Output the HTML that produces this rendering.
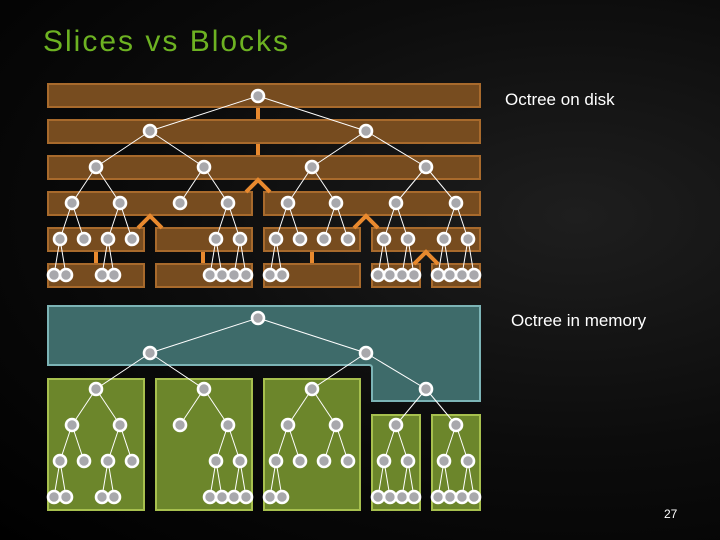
<!DOCTYPE html>
<html><head><meta charset="utf-8"><style>
html,body{margin:0;padding:0;background:#000;}
body{width:720px;height:540px;overflow:hidden;position:relative;font-family:"Liberation Sans",sans-serif;
background:radial-gradient(ellipse at 80% 40%,#1e1e1e 0%,#0c0c0c 50%,#000 100%);}
.t{position:absolute;color:#fff;white-space:nowrap;}
</style></head><body>
<div class="t" style="left:43px;top:25px;font-size:30px;letter-spacing:2px;color:#6db222;">Slices vs Blocks</div>
<div class="t" style="left:505px;top:90px;font-size:17px;">Octree on disk</div>
<div class="t" style="left:511px;top:311px;font-size:17px;">Octree in memory</div>
<div class="t" style="left:664px;top:507px;font-size:12px;">27</div>
<svg id="s" width="720" height="540" style="position:absolute;left:0;top:0" xmlns="http://www.w3.org/2000/svg"></svg>
<script>
var s=document.getElementById('s'),h='';
function R(x1,y1,x2,y2,f,st){h+='<rect x="'+(x1+1)+'" y="'+(y1+1)+'" width="'+(x2-x1-2)+'" height="'+(y2-y1-2)+'" fill="'+f+'" stroke="'+st+'" stroke-width="2"/>';}
var bf='#774c1f',bs='#a86a2c';
R(47,83,481,108,bf,bs);R(47,119,481,144,bf,bs);R(47,155,481,180,bf,bs);
R(47,191,253,216,bf,bs);R(263,191,481,216,bf,bs);
[[47,145],[155,253],[263,361],[371,481]].forEach(function(a){R(a[0],227,a[1],252,bf,bs);});
[[47,145],[155,253],[263,361],[371,421],[431,481]].forEach(function(a){R(a[0],263,a[1],288,bf,bs);});
var o='#e8892e';
function V(x,y1,y2){h+='<line x1="'+x+'" y1="'+y1+'" x2="'+x+'" y2="'+y2+'" stroke="'+o+'" stroke-width="4"/>';}
V(258,108,119);V(258,144,155);V(96,252,263);V(203,252,263);V(312,252,263);
function C(x,y){h+='<polyline points="'+(x-12)+','+(y+12)+' '+x+','+y+' '+(x+12)+','+(y+12)+'" fill="none" stroke="'+o+'" stroke-width="4"/>';}
C(258,180);C(150,216);C(366,216);C(426,252);
h+='<path d="M48,306 H480 V401 H372 V368 Q372,365 369,365 H48 Z" fill="#3e6b6a" stroke="#7cb4b6" stroke-width="2"/>';
var gf='#6c862b',gs='#a7c04e';
R(47,378,145,511,gf,gs);R(155,378,253,511,gf,gs);R(263,378,361,511,gf,gs);
R(371,414,421,511,gf,gs);R(431,414,481,511,gf,gs);
var L1=[150,366],L2=[[96,150],[204,150],[312,366],[426,366]];
var L3=[[72,96],[120,96],[180,204],[228,204],[288,312],[336,312],[396,426],[456,426]];
var L4=[[60,72],[84,72],[108,120],[132,120],[216,228],[240,228],[276,288],[300,288],[324,336],[348,336],[384,396],[408,396],[444,456],[468,456]];
var L5=[[54,60],[66,60],[102,108],[114,108],[210,216],[222,216],[234,240],[246,240],[270,276],[282,276],[378,384],[390,384],[402,408],[414,408],[438,444],[450,444],[462,468],[474,468]];
function tree(y0){
 var ys=[y0,y0+35,y0+71,y0+107,y0+143,y0+179],ln='',nd='';
 function N(x,y){nd+='<circle cx="'+x+'" cy="'+y+'" r="6" fill="#a8a8ac" stroke="#fff" stroke-width="2.6"/>';}
 function Ln(a,b,c,d){ln+='<line x1="'+a+'" y1="'+b+'" x2="'+c+'" y2="'+d+'" stroke="#fff" stroke-width="1"/>';}
 N(258,ys[0]);
 L1.forEach(function(x){Ln(258,ys[0],x,ys[1]);N(x,ys[1]);});
 L2.forEach(function(p){Ln(p[1],ys[1],p[0],ys[2]);N(p[0],ys[2]);});
 L3.forEach(function(p){Ln(p[1],ys[2],p[0],ys[3]);N(p[0],ys[3]);});
 L4.forEach(function(p){Ln(p[1],ys[3],p[0],ys[4]);N(p[0],ys[4]);});
 L5.forEach(function(p){Ln(p[1],ys[4],p[0],ys[5]);N(p[0],ys[5]);});
 h+=ln+nd;
}
tree(96);tree(318);
s.innerHTML=h;
</script>
</body></html>
